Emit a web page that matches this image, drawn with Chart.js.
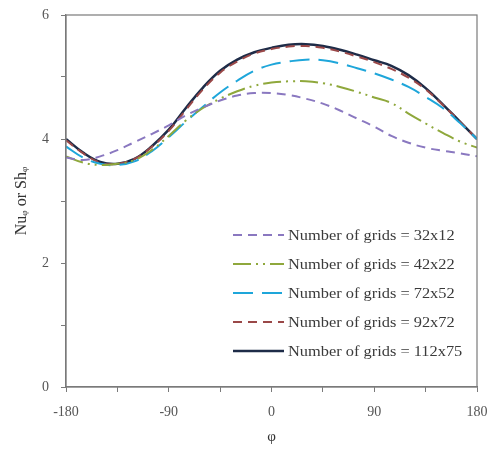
<!DOCTYPE html>
<html>
<head>
<meta charset="utf-8">
<script src="https://cdn.jsdelivr.net/npm/chart.js@4.4.0/dist/chart.umd.min.js"></script>
<style>
    body { margin: 0; background: #fff; }
    #wrap { width: 491px; height: 450px; }
</style>
</head>
<body>
<div id="wrap"><canvas id="grid-chart" width="491" height="450"></canvas></div>
<script>
    // angle around the cylinder (deg)
    const phi = [-180, -165, -150, -135, -120, -105, -90, -75, -60, -45, -30, -15, 0, 15, 30, 45, 60, 75, 90, 105, 120, 135, 150, 165, 180];

    const grid32 = [3.70, 3.66, 3.72, 3.82, 3.95, 4.08, 4.22, 4.38, 4.51, 4.62, 4.70, 4.74, 4.74, 4.71, 4.65, 4.57, 4.46, 4.33, 4.20, 4.05, 3.94, 3.86, 3.81, 3.77, 3.72];
    const grid42 = [3.72, 3.62, 3.58, 3.60, 3.66, 3.82, 4.05, 4.30, 4.50, 4.65, 4.77, 4.86, 4.91, 4.93, 4.93, 4.90, 4.84, 4.76, 4.67, 4.58, 4.41, 4.25, 4.10, 3.96, 3.86];
    const grid72 = [3.88, 3.70, 3.60, 3.58, 3.64, 3.80, 4.03, 4.28, 4.52, 4.75, 4.94, 5.10, 5.20, 5.25, 5.28, 5.27, 5.22, 5.14, 5.06, 4.96, 4.84, 4.68, 4.50, 4.26, 4.00];
    const grid92 = [3.98, 3.77, 3.62, 3.60, 3.68, 3.87, 4.13, 4.47, 4.80, 5.07, 5.25, 5.38, 5.45, 5.49, 5.50, 5.47, 5.41, 5.33, 5.24, 5.13, 4.99, 4.80, 4.55, 4.28, 4.00];
    const grid112 = [4.00, 3.78, 3.63, 3.60, 3.68, 3.88, 4.15, 4.50, 4.83, 5.10, 5.28, 5.40, 5.47, 5.52, 5.53, 5.50, 5.44, 5.36, 5.27, 5.18, 5.03, 4.82, 4.56, 4.28, 4.00];

    const seriesLabels = ['Number of grids = 32x12', 'Number of grids = 42x22', 'Number of grids = 72x52', 'Number of grids = 92x72', 'Number of grids = 112x75'];

    const xTicks = [-180, -90, 0, 90, 180];
    const yTicks = [0, 2, 4, 6];

    const serif = 'Liberation Serif, Times New Roman, serif';
    const axisGray = '#7a7a7a';

    function pts(vals) {
        return phi.map((p, i) => ({ x: p, y: vals[i] }));
    }

    function line(label, vals, color, dash, width) {
        return {
            label: label,
            data: pts(vals),
            borderColor: color,
            backgroundColor: color,
            borderDash: dash,
            borderWidth: width,
            pointRadius: 0,
            tension: 0.4,
            fill: false
        };
    }

    // frame on top + right, and the legend inside the plot
    const framePlugin = {
        id: 'frame',
        afterDatasetsDraw(chart) {
            const { ctx, chartArea: a } = chart;
            ctx.save();
            ctx.strokeStyle = axisGray;
            ctx.lineWidth = 1.2;
            ctx.strokeRect(a.left, a.top, a.right - a.left, a.bottom - a.top);

            const x0 = 233, x1 = 284, tx = 288;
            chart.data.datasets.forEach((ds, i) => {
                const y = 235 + i * 29;
                ctx.beginPath();
                ctx.setLineDash(ds.borderDash || []);
                ctx.strokeStyle = ds.borderColor;
                ctx.lineWidth = ds.borderWidth;
                ctx.moveTo(x0, y);
                ctx.lineTo(x1, y);
                ctx.stroke();
                ctx.setLineDash([]);
                // text in the original is a bit stretched sideways
                ctx.save();
                ctx.translate(tx, y + 1);
                ctx.scale(1.13, 1);
                ctx.fillStyle = '#3a3a3a';
                ctx.font = '14.5px ' + serif;
                ctx.textBaseline = 'middle';
                ctx.fillText(ds.label, 0, 0);
                ctx.restore();
            });
            ctx.restore();
        }
    };

    const ctx = document.getElementById('grid-chart').getContext('2d');
    const chart = new Chart(ctx, {
        type: 'line',
        data: {
            datasets: [
                line(seriesLabels[0], grid32, '#8a78c0', [9, 6], 2),
                line(seriesLabels[1], grid42, '#8fa83c', [18, 5, 2, 5, 2, 5], 2),
                line(seriesLabels[2], grid72, '#1ea6da', [20, 9], 2),
                line(seriesLabels[3], grid92, '#9a4848', [9, 6], 2),
                line(seriesLabels[4], grid112, '#1e2c48', [], 2.5)
            ]
        },
        options: {
            responsive: false,
            animation: false,
            layout: { padding: { top: 15, right: 14, left: 0, bottom: 0 } },
            plugins: {
                legend: { display: false },
                tooltip: { enabled: false }
            },
            scales: {
                x: {
                    type: 'linear',
                    min: -180,
                    max: 180,
                    afterFit: s => { s.height = 63; s.paddingLeft = 0; s.paddingRight = 0; },
                    ticks: {
                        stepSize: 45,
                        autoSkip: false,
                        maxRotation: 0,
                        padding: 12,
                        color: '#555',
                        font: { family: serif, size: 14 },
                        callback: v => xTicks.includes(v) ? String(v) : ''
                    },
                    grid: { drawOnChartArea: false, drawTicks: true, tickLength: 5, color: axisGray },
                    border: { display: true, color: axisGray, width: 1.2 },
                    title: {
                        display: true,
                        text: 'φ',
                        color: '#333',
                        font: { family: serif, size: 15 },
                        padding: { top: 0, bottom: 4 }
                    }
                },
                y: {
                    min: 0,
                    max: 6,
                    afterFit: s => { s.width = 66; s.paddingTop = 0; s.paddingBottom = 0; },
                    ticks: {
                        stepSize: 1,
                        padding: 12,
                        color: '#555',
                        font: { family: serif, size: 14 },
                        callback: v => yTicks.includes(v) ? String(v) : ''
                    },
                    grid: { drawOnChartArea: false, drawTicks: true, tickLength: 5, color: axisGray },
                    border: { display: true, color: axisGray, width: 1.2 },
                    title: {
                        display: true,
                        text: 'Nuᵩ or Shᵩ',
                        color: '#333',
                        font: { family: serif, size: 16 },
                        padding: { top: 12, bottom: 0 }
                    }
                }
            }
        },
        plugins: [framePlugin]
    });
</script>
</body>
</html>
